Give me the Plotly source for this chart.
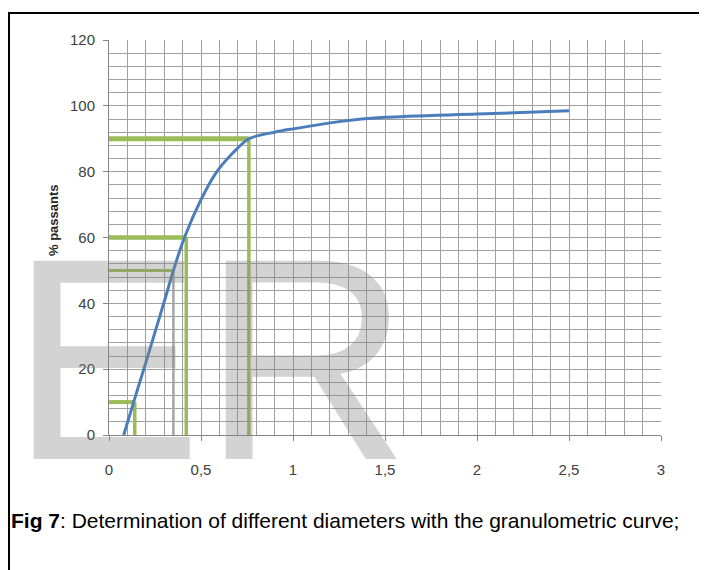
import plotly.graph_objects as go

# ---- data ----
diam = [0.08, 0.134, 0.2, 0.3, 0.35, 0.41, 0.5, 0.58, 0.67, 0.76, 0.9, 1.0, 1.25, 1.5, 2.0, 2.5]
passing = [0, 10, 22, 40.5, 50, 60, 71.5, 79.5, 85.5, 90, 92.0, 93.0, 95.2, 96.5, 97.5, 98.5]

d_marks = [0.14, 0.35, 0.42, 0.76]      # D10, D50, D60, D90
p_marks = [10, 50, 60, 90]

x_tick_vals = [0, 0.5, 1, 1.5, 2, 2.5, 3]
x_tick_labels = ["0", "0,5", "1", "1,5", "2", "2,5", "3"]
y_tick_vals = [0, 20, 40, 60, 80, 100, 120]
y_tick_labels = ["0", "20", "40", "60", "80", "100", "120"]

y_title = "% passants"
caption_bold = "Fig 7"
caption_rest = ": Determination of different diameters with the granulometric curve;"
watermark = "ER"

GREEN = "#9bbb59"
GREY = "#a5a5a5"
BLUE = "#4a7ebb"
GRID = "#a0a0a0"
TICKFONT = "Liberation Sans, Arial, sans-serif"

# styles per reference line (horizontal width, vertical colour, vertical width)
h_widths = [4, 3, 4.5, 5]
v_colors = [GREEN, GREY, GREEN, GREEN]
v_widths = [3.5, 2.5, 3.5, 3.5]

fig = go.Figure()

for d, p, hw, vc, vw in zip(d_marks, p_marks, h_widths, v_colors, v_widths):
    fig.add_trace(go.Scatter(x=[0, d], y=[p, p], mode="lines",
                             line=dict(color=GREEN, width=hw), hoverinfo="skip"))
    fig.add_trace(go.Scatter(x=[d, d], y=[0, p], mode="lines",
                             line=dict(color=vc, width=vw), hoverinfo="skip"))

fig.add_trace(go.Scatter(x=diam, y=passing, mode="lines",
                         line=dict(color=BLUE, width=3, shape="spline", smoothing=0.8)))

OFF = 8  # page body margin
L, R, T, B = 101, 46, 32, 135
W, H = 699, 562
pw, ph = W - L - R, H - T - B


def px(xs):
    return (xs - OFF - L) / pw


def py(ys):
    return (H - B - (ys - OFF)) / ph


fig.update_layout(
    width=W, height=H,
    margin=dict(l=L, r=R, t=T, b=B),
    paper_bgcolor="white", plot_bgcolor="white",
    showlegend=False,
    xaxis=dict(range=[0, 3], tickvals=x_tick_vals, ticktext=x_tick_labels,
               showgrid=True, gridcolor=GRID, gridwidth=1,
               minor=dict(dtick=0.1, showgrid=True, gridcolor=GRID, gridwidth=1),
               showline=True, linecolor="#868686", linewidth=1,
               ticks="outside", ticklen=5, tickcolor="#868686",
               zeroline=False, ticklabelstandoff=16,
               tickfont=dict(family=TICKFONT, size=15, color="#404040")),
    yaxis=dict(range=[0, 120], tickvals=y_tick_vals, ticktext=y_tick_labels,
               showgrid=True, gridcolor=GRID, gridwidth=1,
               minor=dict(dtick=4, showgrid=True, gridcolor=GRID, gridwidth=1),
               showline=True, linecolor="#868686", linewidth=1,
               ticks="outside", ticklen=5, tickcolor="#868686",
               zeroline=False, ticklabelstandoff=5,
               tickfont=dict(family=TICKFONT, size=15, color="#404040")),
    shapes=[
        dict(type="line", xref="paper", yref="paper", x0=px(8), x1=px(720), y0=py(13), y1=py(13),
             line=dict(color="black", width=2)),
        dict(type="line", xref="paper", yref="paper", x0=px(9), x1=px(9), y0=py(13), y1=py(580),
             line=dict(color="black", width=2)),
    ],
    annotations=[
        dict(text=y_title, xref="paper", yref="paper", x=px(53), y=py(220), textangle=-90,
             showarrow=False, xanchor="center", yanchor="middle",
             font=dict(family=TICKFONT, size=13, color="#262626", weight="bold")),
        dict(text="<b>" + caption_bold + "</b>" + caption_rest, xref="paper", yref="paper",
             x=px(9), y=py(520), showarrow=False, xanchor="left", yanchor="middle",
             font=dict(family="Liberation Sans, Arial, sans-serif", size=21, color="black")),
        dict(text=watermark, xref="paper", yref="paper", x=px(8), y=py(359), showarrow=False,
             xanchor="left", yanchor="middle",
             font=dict(family="Liberation Sans, Arial, sans-serif", size=288,
                       color="rgba(128,128,128,0.35)")),
    ],
)

fig.write_html("out.html")
